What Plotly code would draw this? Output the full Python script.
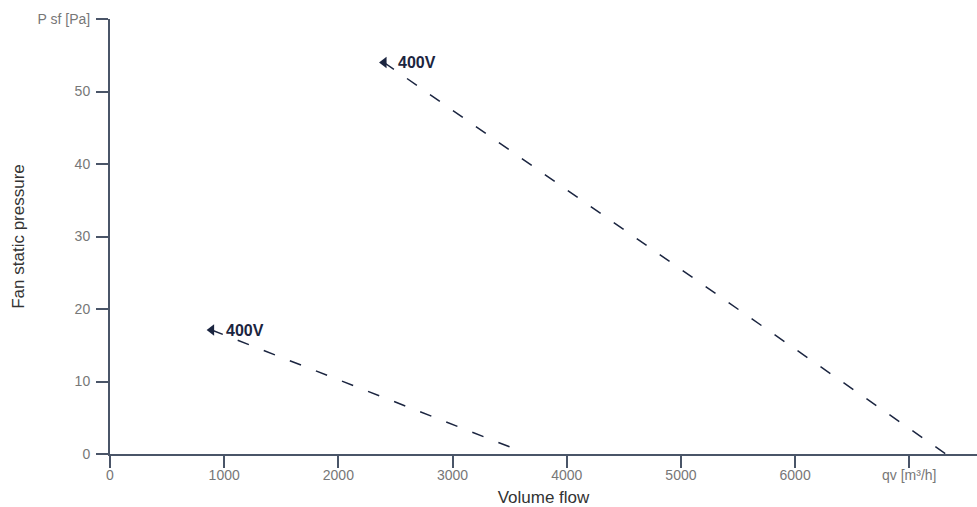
import plotly.graph_objects as go

# Data
curve_a_flow = [2400, 7320]
curve_a_pressure = [54.0, 0.0]
curve_b_flow = [890, 3530]
curve_b_pressure = [17.1, 0.8]
curve_labels = ["400V", "400V"]

x_tick_vals = [0, 1000, 2000, 3000, 4000, 5000, 6000, 7000]
x_tick_text = ["0", "1000", "2000", "3000", "4000", "5000", "6000", "qv [m³/h]"]
y_tick_vals = [0, 10, 20, 30, 40, 50, 60]
y_tick_text = ["0", "10", "20", "30", "40", "50", "P sf [Pa]"]

line_color = "#1b2540"
axis_color = "#4a5568"

fig = go.Figure()
for fx, fy, lab in [(curve_a_flow, curve_a_pressure, curve_labels[0]),
                    (curve_b_flow, curve_b_pressure, curve_labels[1])]:
    fig.add_trace(go.Scatter(
        x=fx, y=fy, mode="lines",
        line=dict(color=line_color, width=1.5, dash="12px,16px"),
        hoverinfo="skip", showlegend=False))
    fig.add_trace(go.Scatter(
        x=[fx[0]], y=[fy[0]], mode="markers",
        marker=dict(symbol="triangle-left", size=10, color=line_color),
        hoverinfo="skip", showlegend=False))
    fig.add_annotation(
        x=fx[0], y=fy[0], text="<b>" + lab + "</b>", showarrow=False,
        xanchor="left", yanchor="middle", xshift=12, yshift=0,
        font=dict(family="Liberation Sans, Arial, sans-serif", size=16, color=line_color))

fig.update_layout(
    width=977, height=507,
    margin=dict(l=110, r=0, t=19, b=53),
    paper_bgcolor="white", plot_bgcolor="white",
    font=dict(family="Liberation Sans, Arial, sans-serif"),
    xaxis=dict(
        range=[0, 7593], tickvals=x_tick_vals, ticktext=x_tick_text,
        showgrid=False, zeroline=False, showline=True, linecolor=axis_color, linewidth=2,
        ticks="outside", ticklen=12, tickwidth=2, tickcolor=axis_color,
        tickfont=dict(size=14, color="#777777"), automargin=False, ticklabelstandoff=-5,
        title=dict(text="Volume flow", font=dict(size=17, color="#333333"), standoff=17),
    ),
    yaxis=dict(
        range=[0, 60], tickvals=y_tick_vals, ticktext=y_tick_text,
        showgrid=False, zeroline=False, showline=True, linecolor=axis_color, linewidth=2,
        ticks="outside", ticklen=12, tickwidth=2, tickcolor=axis_color,
        tickfont=dict(size=14, color="#777777"), ticklabelstandoff=3, automargin=False,
        title=dict(text="Fan static pressure", font=dict(size=17, color="#333333"), standoff=9),
    ),
)

fig.write_html("out.html", config={"displayModeBar": False},
               post_script="document.body.style.margin='0';")
